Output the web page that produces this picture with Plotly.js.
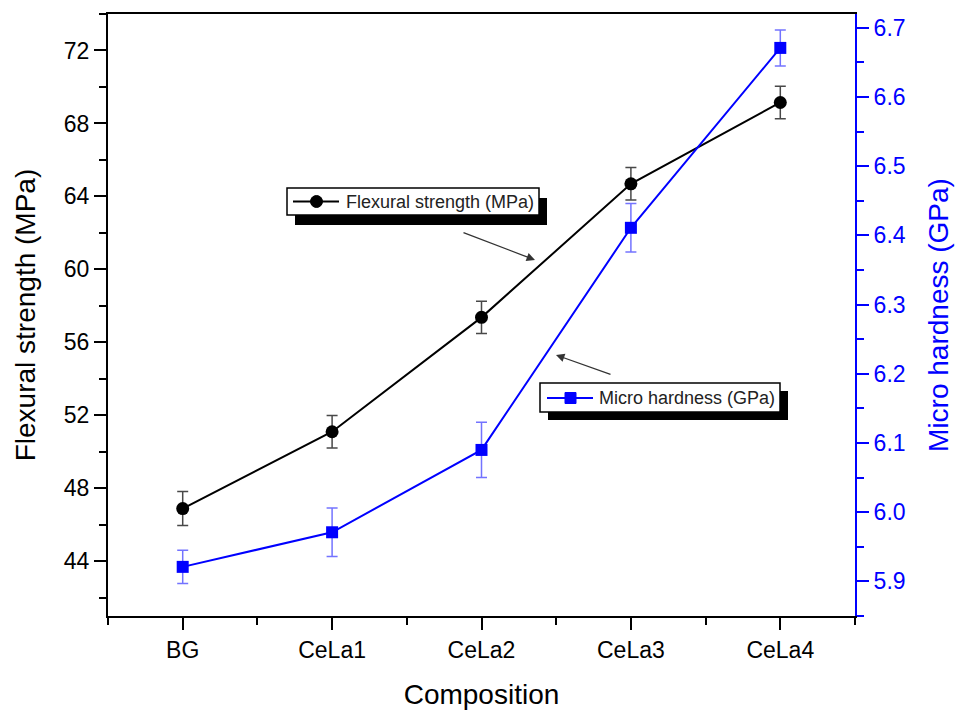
<!DOCTYPE html>
<html>
<head>
<meta charset="utf-8">
<script src="https://cdn.plot.ly/plotly-3.0.1.min.js"></script>
<style>html,body{margin:0;padding:0;background:#fff;}#chart{width:956px;height:710px;}</style>
</head>
<body>
<div id="chart"></div>
<script>
// ---- data ----
const categories = ["BG", "CeLa1", "CeLa2", "CeLa3", "CeLa4"];
const flexuralStrength = [46.89, 51.1, 57.37, 64.69, 69.15];
const flexuralError = [0.93, 0.89, 0.89, 0.89, 0.89];
const microHardness = [5.921, 5.971, 6.09, 6.411, 6.671];
const hardnessError = [0.024, 0.035, 0.04, 0.035, 0.026];
const flexuralName = "Flexural strength (MPa)";
const hardnessName = "Micro hardness (GPa)";

const xIdx = categories.map((c, i) => i);
const FONT = "Liberation Sans, Arial, Helvetica, sans-serif";

// plot-area geometry helpers (pixel -> paper fraction) for the decorative legend boxes
const L = 108, R = 101, T = 14, B = 94, W = 956, H = 710;
const PW = W - L - R, PH = H - T - B;
const px = v => (v - L) / PW;
const py = v => (H - B - v) / PH;

const traces = [
  {
    x: xIdx, y: flexuralStrength, name: flexuralName, type: "scatter", mode: "lines+markers",
    line: {color: "#000000", width: 2},
    marker: {symbol: "circle", size: 13, color: "#000000"},
    error_y: {type: "data", array: flexuralError, visible: true, color: "rgba(40,40,40,0.85)", thickness: 1.5, width: 5.5},
    showlegend: false
  },
  {
    x: xIdx, y: microHardness, name: hardnessName, type: "scatter", mode: "lines+markers", yaxis: "y2",
    line: {color: "#0000FF", width: 2},
    marker: {symbol: "square", size: 12, color: "#0000FF"},
    error_y: {type: "data", array: hardnessError, visible: true, color: "rgba(90,90,255,0.85)", thickness: 1.5, width: 5.5},
    showlegend: false
  }
];

function legendBox(x0, y0, x1, y1, sx, sy) {
  return [
    {type: "rect", xref: "paper", yref: "paper", x0: px(x0 + sx), x1: px(x1 + sx), y0: py(y1 + sy), y1: py(y0 + sy), fillcolor: "#000", line: {width: 0}, layer: "above"},
    {type: "rect", xref: "paper", yref: "paper", x0: px(x0), x1: px(x1), y0: py(y1), y1: py(y0), fillcolor: "#fff", line: {color: "#000", width: 1.5}, layer: "above"}
  ];
}

const shapes = [].concat(
  legendBox(287, 188, 539, 215, 8, 10),
  [
    {type: "line", xref: "paper", yref: "paper", x0: px(293), x1: px(339), y0: py(201.5), y1: py(201.5), line: {color: "#000", width: 2}, layer: "above"},
    {type: "circle", xref: "paper", yref: "paper", x0: px(310.5), x1: px(322.5), y0: py(207.5), y1: py(195.5), fillcolor: "#000", line: {color: "#000", width: 1}, layer: "above"}
  ],
  legendBox(540, 383, 780, 412, 8, 8),
  [
    {type: "line", xref: "paper", yref: "paper", x0: px(547), x1: px(593), y0: py(398), y1: py(398), line: {color: "#0000FF", width: 2}, layer: "above"},
    {type: "rect", xref: "paper", yref: "paper", x0: px(565), x1: px(576), y0: py(403.5), y1: py(392.5), fillcolor: "#0000FF", line: {color: "#0000FF", width: 1}, layer: "above"}
  ]
);

const layout = {
  width: W, height: H,
  margin: {l: L, r: R, t: T, b: B},
  paper_bgcolor: "#ffffff", plot_bgcolor: "#ffffff",
  font: {family: FONT, color: "#000"},
  showlegend: false,
  xaxis: {
    range: [-0.5, 4.5], tickmode: "array", tickvals: xIdx, ticktext: categories,
    showgrid: false, zeroline: false, showline: true, linecolor: "#000", linewidth: 2, mirror: true,
    ticks: "outside", ticklen: 12, tickwidth: 2, tickcolor: "#000",
    tickfont: {size: 23, family: FONT},
    minor: {tickmode: "linear", tick0: -0.5, dtick: 0.5, ticks: "outside", ticklen: 7, tickwidth: 2, tickcolor: "#000", showgrid: false},
    title: {text: "Composition", font: {size: 28, family: FONT}, standoff: 24}
  },
  yaxis: {
    range: [41, 74], tick0: 0, dtick: 4,
    showgrid: false, zeroline: false, showline: true, linecolor: "#000", linewidth: 2,
    ticks: "outside", ticklen: 12, tickwidth: 2, tickcolor: "#000",
    tickfont: {size: 23, family: FONT},
    minor: {tick0: 0, dtick: 2, ticks: "outside", ticklen: 7, tickwidth: 2, tickcolor: "#000", showgrid: false},
    title: {text: flexuralName, font: {size: 28, family: FONT}, standoff: 20}
  },
  yaxis2: {
    overlaying: "y", side: "right", range: [5.85, 6.72], tick0: 0, dtick: 0.1, tickformat: ".1f",
    showgrid: false, zeroline: false, showline: true, linecolor: "#0000FF", linewidth: 2,
    ticks: "outside", ticklen: 12, tickwidth: 2, tickcolor: "#0000FF",
    tickfont: {size: 23, family: FONT, color: "#0000FF"},
    minor: {tick0: 0, dtick: 0.05, ticks: "outside", ticklen: 7, tickwidth: 2, tickcolor: "#0000FF", showgrid: false},
    title: {text: hardnessName, font: {size: 28, family: FONT, color: "#0000FF"}, standoff: 24}
  },
  shapes: shapes,
  annotations: [
    {xref: "paper", yref: "paper", x: px(344), y: py(201.5), xanchor: "left", yanchor: "middle", showarrow: false,
     text: flexuralName, font: {size: 18, family: FONT, color: "#222"}},
    {xref: "paper", yref: "paper", x: px(597), y: py(398), xanchor: "left", yanchor: "middle", showarrow: false,
     text: hardnessName, font: {size: 18, family: FONT, color: "#222"}},
    {xref: "paper", yref: "paper", x: px(535), y: py(260), ax: -73, ay: -28, showarrow: true, arrowhead: 2, arrowsize: 1.3, arrowwidth: 1.3, arrowcolor: "#333", text: ""},
    {xref: "paper", yref: "paper", x: px(556), y: py(355), ax: 56, ay: 20, showarrow: true, arrowhead: 2, arrowsize: 1.3, arrowwidth: 1.3, arrowcolor: "#333", text: ""}
  ]
};

Plotly.newPlot("chart", traces, layout, {displayModeBar: false, staticPlot: true});
</script>
</body>
</html>
